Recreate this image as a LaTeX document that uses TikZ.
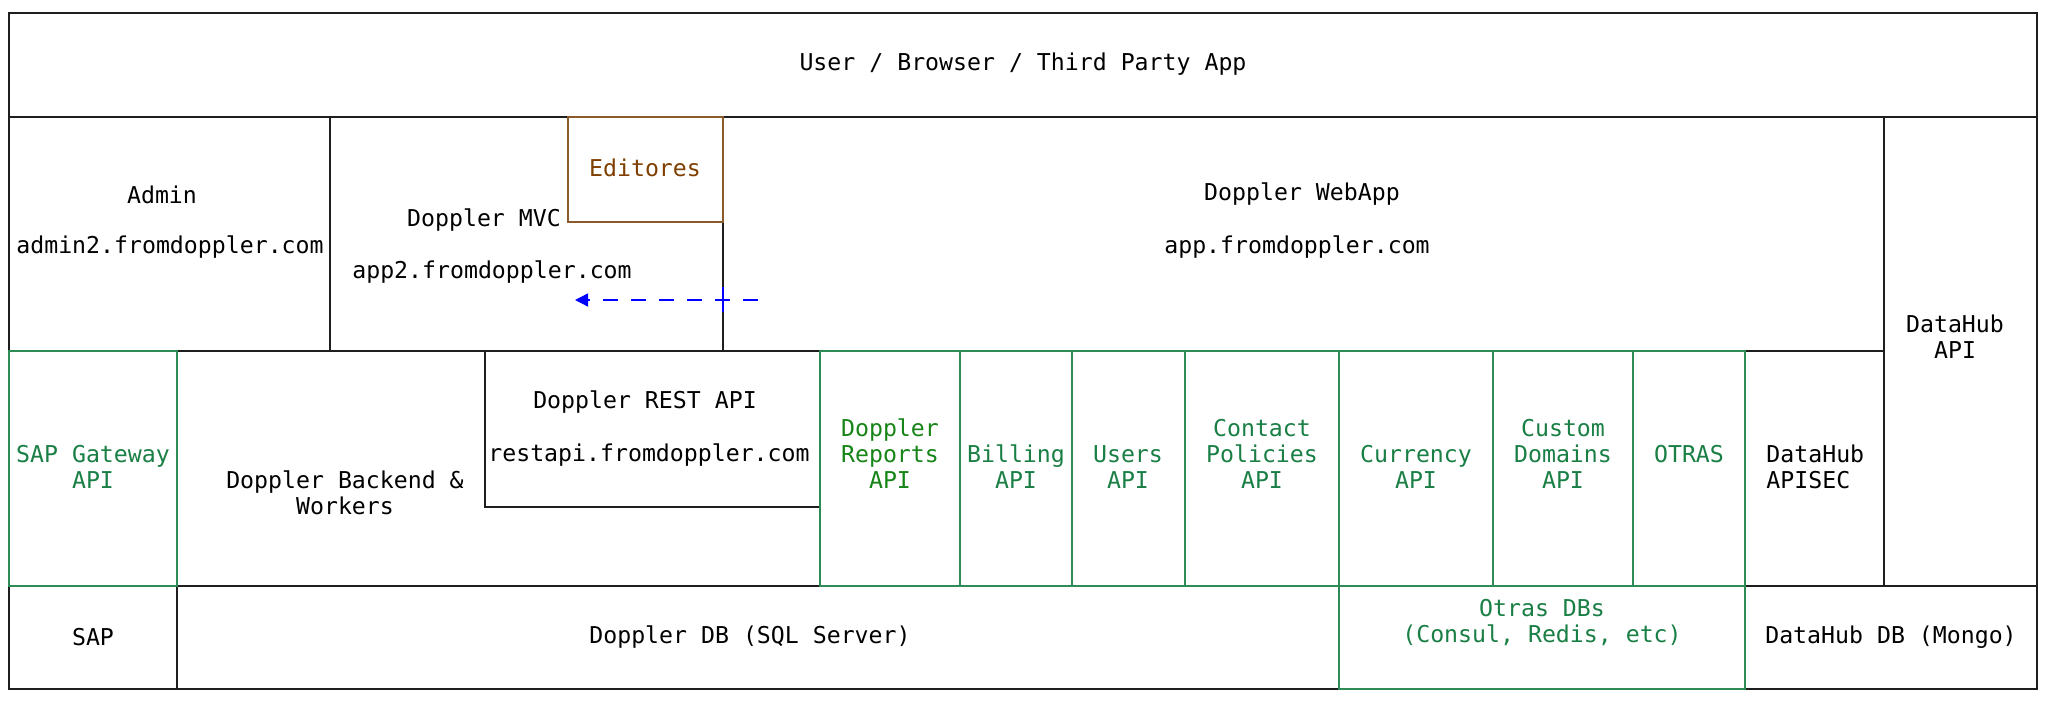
\documentclass[tikz,border=0pt]{standalone}
\usepackage{fontspec}
\usetikzlibrary{arrows.meta}
\newfontfamily\monofam{DejaVu Sans Mono}
\definecolor{linegreen}{HTML}{2E8B57}
\definecolor{txtgreen}{HTML}{1A7F45}
\definecolor{repgreen}{HTML}{168416}
\definecolor{brownline}{HTML}{8B5A2B}
\definecolor{browntxt}{HTML}{7F3F00}
\definecolor{darkline}{HTML}{1E1E1E}
\tikzset{
  lbl/.style={font=\monofam\fontsize{11.6}{13}\selectfont, align=center, inner sep=0pt, text=black},
  glbl/.style={lbl, text=txtgreen},
  blk/.style={draw=darkline, line width=0.7pt},
  grn/.style={draw=linegreen, line width=0.7pt},
  brn/.style={draw=brownline, line width=0.7pt},
  flow/.style={draw=blue, line width=0.7pt, dash pattern=on 7.5pt off 6.5pt, -{Triangle[length=6.5pt,width=6.5pt]}}
}
\begin{document}
\begin{tikzpicture}[x=0.5pt, y=-0.5pt]
\useasboundingbox (0,0) rectangle (2046,704);
\fill[white] (0,0) rectangle (2046,704);
% black structure
\draw[blk] (9,13) rectangle (2037,689);
\draw[blk] (9,117) -- (2037,117);
\draw[blk] (330,117) -- (330,351);
\draw[blk] (723,117) -- (723,351);
\draw[blk] (1884,117) -- (1884,586);
\draw[blk] (9,351) -- (1884,351);
\draw[blk] (9,586) -- (2037,586);
\draw[blk] (485,351) -- (485,507) -- (820,507);
\draw[blk] (177,586) -- (177,689);
% green boxes
\draw[grn] (9,351) rectangle (177,586);
\draw[grn] (820,351) rectangle (1745,586);
\foreach \xx in {960,1072,1185,1339,1493,1633} { \draw[grn] (\xx,351) -- (\xx,586); }
\draw[grn] (1339,586) rectangle (1745,689);
% brown box
\draw[brn] (568,117) rectangle (723,222);
% blue tick and arrow
\draw[draw=blue, line width=0.7pt] (723,287) -- (723,312);
\coordinate (arrS) at (758,300);
\coordinate (arrE) at (575,300);
\draw[flow] (arrS) -- (arrE);
% labels
\node[lbl] (user) at (1023,64) {User / Browser / Third Party App};
\node[lbl] (admin) at (162,195) {Admin};
\node[lbl] (adminurl) at (170,247) {admin2.fromdoppler.com};
\node[lbl] (mvc) at (484,220) {Doppler MVC};
\node[lbl] (mvcurl) at (492,272) {app2.fromdoppler.com};
\node[lbl, text=browntxt] (editores) at (645,168) {Editores};
\node[lbl] (webapp) at (1302,194) {Doppler WebApp};
\node[lbl] (webappurl) at (1297,247) {app.fromdoppler.com};
\node[lbl] (dhapi) at (1955,337) {DataHub\\API};
\node[glbl] (sapgw) at (93,467) {SAP Gateway\\API};
\node[lbl] (backend) at (345,493) {Doppler Backend \&\\Workers};
\node[lbl] (rest) at (645,402) {Doppler REST API};
\node[lbl] (resturl) at (649,455) {restapi.fromdoppler.com};
\node[glbl, text=repgreen] (reports) at (890,454) {Doppler\\Reports\\API};
\node[glbl] (billing) at (1016,467) {Billing\\API};
\node[glbl] (users) at (1128,467) {Users\\API};
\node[glbl] (contact) at (1262,454) {Contact\\Policies\\API};
\node[glbl] (currency) at (1416,467) {Currency\\API};
\node[glbl] (custom) at (1563,454) {Custom\\Domains\\API};
\node[glbl] (otras) at (1689,454) {OTRAS};
\node[lbl, align=left, anchor=west] (apisec) at (1766,467) {DataHub\\APISEC};
\node[lbl] (sap) at (93,637) {SAP};
\node[lbl] (db) at (750,637) {Doppler DB (SQL Server)};
\node[glbl] (otrasdb) at (1542,623) {Otras DBs\\(Consul, Redis, etc)};
\node[lbl] (dhdb) at (1891,637) {DataHub DB (Mongo)};
\end{tikzpicture}
\end{document}
